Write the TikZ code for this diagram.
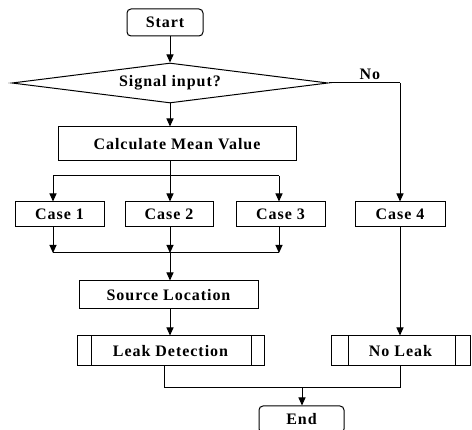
\documentclass[tikz,border=0pt]{standalone}
\usepackage{fontspec}
\setmainfont{Liberation Serif}[LetterSpace=6]
\usetikzlibrary{arrows.meta,shapes.geometric}
\begin{document}
\begin{tikzpicture}[x=1pt,y=-1pt,
  font=\fontsize{16}{19}\selectfont\bfseries,
  box/.style={draw, line width=1pt, inner sep=0pt},
  term/.style={box, rounded corners=4pt},
  arr/.style={line width=1pt, -{Triangle[length=8pt,width=7pt]}},
  ln/.style={line width=1pt}]
\useasboundingbox (0,0) rectangle (472,430);
% nodes
\node[term, minimum width=76pt, minimum height=27pt] (start) at (165,22.5) {Start};
\node[draw, diamond, aspect=7.9, inner sep=0pt, line width=1pt,
      minimum width=316pt, minimum height=40pt] (dia) at (170,83) {Signal input?};
\node[box, minimum width=238pt, minimum height=34pt] (calc) at (177,144) {Calculate Mean Value};
\node[box, minimum width=89pt, minimum height=25pt] (c1) at (59.5,214.5) {Case 1};
\node[box, minimum width=88pt, minimum height=25pt] (c2) at (169,214.5) {Case 2};
\node[box, minimum width=89pt, minimum height=25pt] (c3) at (280.5,214.5) {Case 3};
\node[box, minimum width=90pt, minimum height=25pt] (c4) at (400,214.5) {Case 4};
\node[box, minimum width=179pt, minimum height=28pt] (src) at (168.5,295) {Source Location};
\node[box, minimum width=187pt, minimum height=30pt] (leak) at (170.5,351) {Leak Detection};
\node[box, minimum width=139pt, minimum height=30pt] (noleak) at (400.5,351) {No Leak};
\node[term, minimum width=85pt, minimum height=27pt] (end) at (301.5,419.5) {End};
\node[anchor=base, inner sep=0pt] (nolab) at (370,80) {No};
% inner bars of predefined-process boxes
\draw[ln] ([xshift=15pt]leak.north west) -- ([xshift=15pt]leak.south west);
\draw[ln] ([xshift=-13pt]leak.north east) -- ([xshift=-13pt]leak.south east);
\draw[ln] ([xshift=18pt]noleak.north west) -- ([xshift=18pt]noleak.south west);
\draw[ln] ([xshift=-15pt]noleak.north east) -- ([xshift=-15pt]noleak.south east);
% coordinates
\coordinate (split) at (170,176);
\coordinate (s1) at (53,176);
\coordinate (s3) at (279,176);
\coordinate (m1) at (53,253);
\coordinate (m2) at (170,253);
\coordinate (m3) at (279,253);
\coordinate (nocorner) at (400,83);
\coordinate (j1) at (164,388);
\coordinate (j2) at (400,388);
\coordinate (jm) at (302,388);
% connectors
\draw[arr] (start.south -| dia.north) -- (dia.north);
\draw[arr] (dia.south) -- (calc.north -| dia.south);
\draw[ln] (calc.south -| split) -- (split);
\draw[ln] (s1) -- (s3);
\draw[arr] (s1) -- (s1 |- c1.north);
\draw[arr] (split) -- (split |- c2.north);
\draw[arr] (s3) -- (s3 |- c3.north);
\draw[arr] (m1 |- c1.south) -- (m1);
\draw[arr] (m2 |- c2.south) -- (m2);
\draw[arr] (m3 |- c3.south) -- (m3);
\draw[ln] (m1) -- (m3);
\draw[arr] (m2) -- (m2 |- src.north);
\draw[arr] (m2 |- src.south) -- (m2 |- leak.north);
\draw[ln] (dia.east) -- (nocorner);
\draw[arr] (nocorner) -- (nocorner |- c4.north);
\draw[arr] (nocorner |- c4.south) -- (nocorner |- noleak.north);
\draw[ln] (j1 |- leak.south) -- (j1) -- (j2) -- (j2 |- noleak.south);
\draw[arr] (jm) -- (jm |- end.north);
\end{tikzpicture}
\end{document}
